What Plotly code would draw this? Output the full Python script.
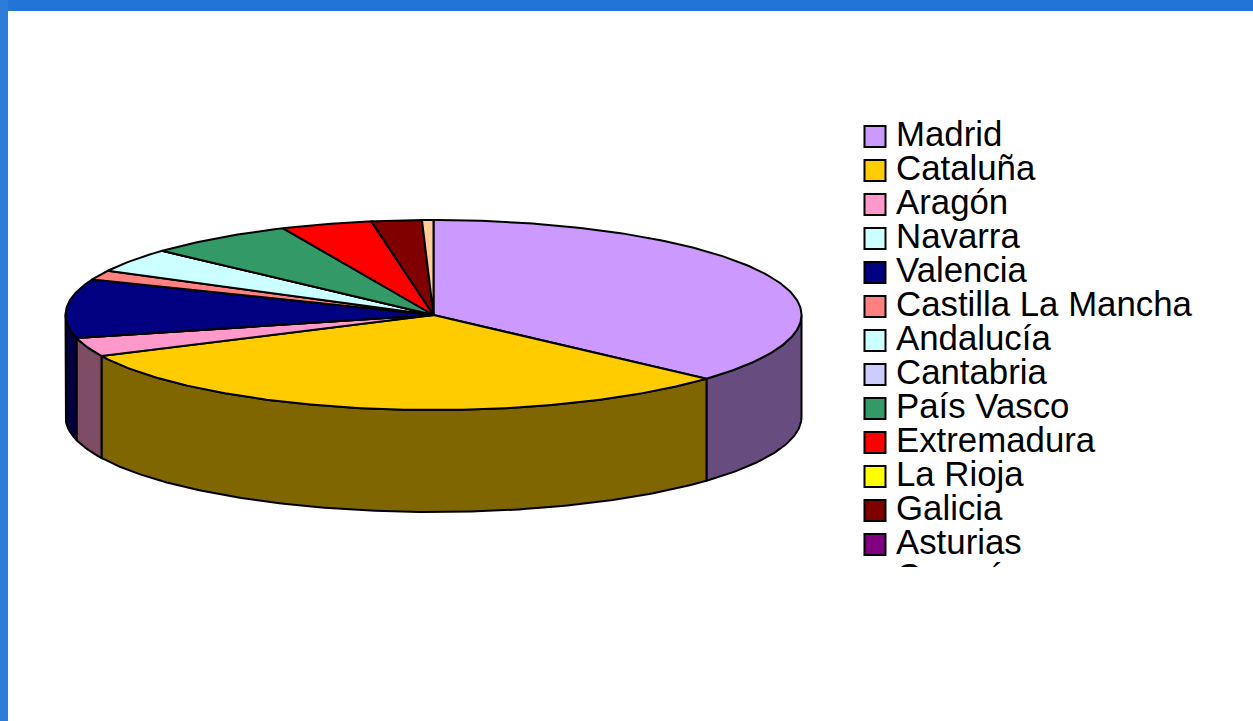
import numpy as np
import plotly.graph_objects as go

regiones = ["Madrid", "Cataluña", "Aragón", "Navarra", "Valencia", "Castilla La Mancha",
            "Andalucía", "Cantabria", "País Vasco", "Extremadura", "La Rioja", "Galicia",
            "Asturias", "Canarías"]
valores = [36.7, 31.2, 3.2, 0.0, 10.0, 1.6, 4.1, 0.0, 6.5, 4.0, 0.0, 2.2, 0.0, 0.5]
colores = ["#CC99FF", "#FFCC00", "#FF99CC", "#CCFFFF", "#000080", "#FF8080", "#CCFFFF",
           "#CCCCFF", "#339966", "#FF0000", "#FFFF00", "#800000", "#800080", "#FFCC99"]

CX, CY, RX, RY, DEPTH = 433.5, 315.0, 368.0, 95.0, 102.0
LW = 2.0
FONT = "Liberation Sans"
FSIZE = 34.8


def darker(hexcolor):
    r, g, b = (int(hexcolor[i:i + 2], 16) // 2 for i in (1, 3, 5))
    return f"rgb({r},{g},{b})"


def arc(a0, a1):
    n = max(2, int(abs(a1 - a0) / 0.75) + 2)
    t = np.radians(np.linspace(a0, a1, n))
    return CX + RX * np.sin(t), CY - RY * np.cos(t)


fig = go.Figure()
total = sum(valores)
ends = np.cumsum(valores) / total * 360
starts = np.concatenate([[0], ends[:-1]])

# visible walls (front half of the disc)
for name, col, a0, a1 in zip(regiones, colores, starts, ends):
    lo, hi = max(a0, 90), min(a1, 270)
    if hi > lo:
        x, y = arc(lo, hi)
        fig.add_trace(go.Scatter(
            x=np.concatenate([x, x[::-1], x[:1]]),
            y=np.concatenate([y, y[::-1] + DEPTH, y[:1]]),
            mode="lines", fill="toself", fillcolor=darker(col),
            line=dict(color="black", width=LW), name=name, showlegend=False,
            hoverinfo="name"))

# top faces
for name, col, a0, a1 in zip(regiones, colores, starts, ends):
    x, y = arc(a0, a1)
    fig.add_trace(go.Scatter(
        x=np.concatenate([[CX], x, [CX]]),
        y=np.concatenate([[CY], y, [CY]]),
        mode="lines", fill="toself", fillcolor=col,
        line=dict(color="black", width=LW),
        name=name, showlegend=False, hoverinfo="name"))

# legend drawn as a clipped list
ROW0, ROWSTEP = 136.5, 34.0
rows = [ROW0 + i * ROWSTEP for i in range(len(regiones))]
fig.add_trace(go.Scatter(
    x=[875] * len(regiones), y=rows, mode="markers", xaxis="x2", yaxis="y2",
    marker=dict(symbol="square", size=21, color=colores, line=dict(color="black", width=2)),
    showlegend=False, hoverinfo="skip", cliponaxis=True))
fig.add_trace(go.Scatter(
    x=[896] * len(regiones), y=[r + 1.2 for r in rows], mode="text", xaxis="x2", yaxis="y2",
    text=regiones, textposition="middle right",
    textfont=dict(family=FONT, size=FSIZE, color="black"),
    showlegend=False, hoverinfo="skip", cliponaxis=True))

fig.update_layout(
    width=1253, height=721, autosize=False,
    margin=dict(l=0, r=0, t=0, b=0),
    paper_bgcolor="white", plot_bgcolor="rgba(0,0,0,0)",
    xaxis=dict(range=[0, 1253], domain=[0, 1], visible=False, fixedrange=True),
    yaxis=dict(range=[721, 0], domain=[0, 1], visible=False, fixedrange=True),
    xaxis2=dict(range=[850, 1253], domain=[850 / 1253, 1], visible=False, anchor="y2", fixedrange=True),
    yaxis2=dict(range=[567, 100], domain=[(721 - 567) / 721, 1 - 100 / 721], visible=False,
                anchor="x2", fixedrange=True),
    shapes=[
        dict(type="rect", xref="paper", yref="paper", x0=0, x1=1, y0=1 - 11 / 721, y1=1,
             fillcolor="#2275D6", line_width=0, layer="below"),
        dict(type="rect", xref="paper", yref="paper", x0=0, x1=8 / 1253, y0=0, y1=1,
             fillcolor="#2C7DD9", line_width=0, layer="below"),
    ],
)

fig.write_html("out.html", config=dict(displayModeBar=False),
               post_script="document.body.style.margin='0';document.body.style.overflow='hidden';")
